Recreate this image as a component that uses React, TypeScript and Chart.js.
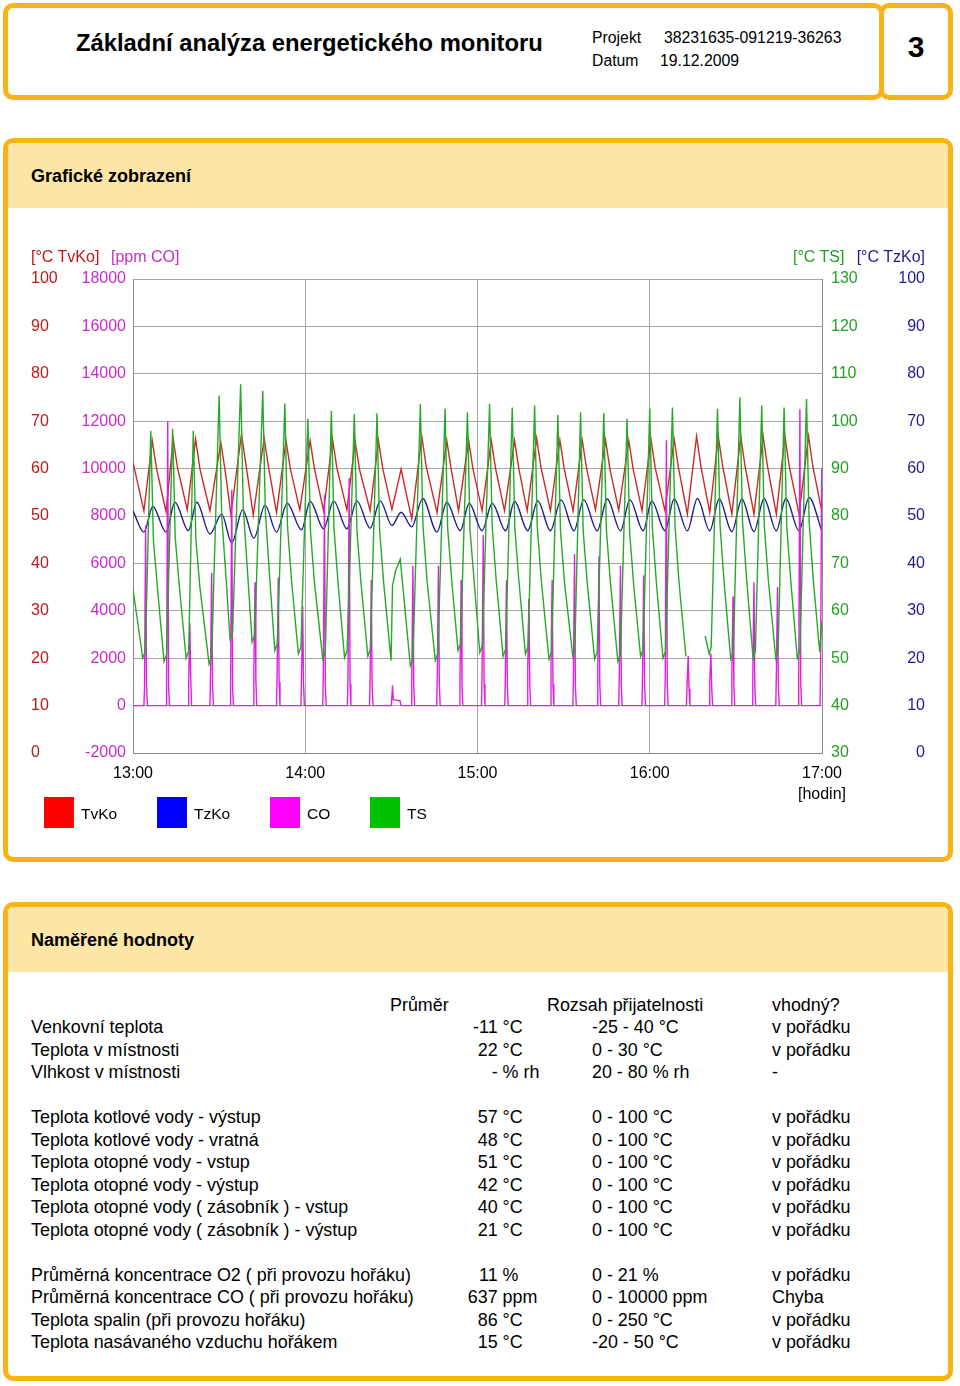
import React, { useEffect, useRef } from 'react';
import { Chart, registerables } from 'chart.js';

Chart.register(...registerables);

const FONT = "'Liberation Sans', Arial, Helvetica, sans-serif";

// ---------------- chart data (minutes after 13:00, value) ----------------
const timeTickLabels = ['13:00', '14:00', '15:00', '16:00', '17:00'];
const tvkoTickLabels = ['0', '10', '20', '30', '40', '50', '60', '70', '80', '90', '100'];
const coTickLabels = ['-2000', '0', '2000', '4000', '6000', '8000', '10000', '12000', '14000', '16000', '18000'];
const tsTickLabels = ['30', '40', '50', '60', '70', '80', '90', '100', '110', '120', '130'];
const tzkoTickLabels = ['0', '10', '20', '30', '40', '50', '60', '70', '80', '90', '100'];

const seriesNames = ['TvKo', 'TzKo', 'CO', 'TS'];

const tvkoData: [number, number][] = [
  [0, 61.3],
  [3.8, 51.1], [6.7, 65.9], [8.2, 60.0],
  [11.5, 50.9], [14.0, 66.2], [15.5, 60.2],
  [18.9, 51.3], [21.8, 66.2], [23.3, 60.0],
  [26.8, 51.1], [30.6, 65.5], [32.1, 59.5],
  [34.1, 50.4], [37.8, 67.3], [39.3, 61.0],
  [41.9, 50.2], [45.7, 66.4], [47.2, 60.3],
  [50.0, 50.7], [53.3, 65.9], [54.8, 60.0],
  [58.1, 51.3], [61.7, 65.9], [63.2, 60.0],
  [66.4, 51.1], [69.5, 66.2], [71.0, 60.2],
  [74.5, 51.3], [77.4, 65.7], [78.9, 59.8],
  [82.6, 51.1], [85.5, 65.9], [87.0, 60.0],
  [90.2, 51.4], [93.4, 59.9], [94.9, 55.5],
  [97.1, 49.4], [100.6, 66.8], [102.1, 60.5],
  [105.9, 50.7], [109.3, 65.9], [110.8, 60.0],
  [113.4, 51.1], [116.9, 65.9], [118.4, 60.0],
  [121.6, 51.1], [124.8, 65.9], [126.3, 60.0],
  [129.4, 51.1], [132.9, 65.9], [134.4, 60.0],
  [137.3, 51.1], [140.6, 66.4], [142.1, 60.3],
  [145.4, 51.1], [148.7, 66.0], [150.2, 60.0],
  [153.3, 51.1], [156.5, 65.9], [158.0, 60.0],
  [161.1, 51.3], [164.6, 66.0], [166.1, 60.0],
  [169.2, 51.2], [172.7, 65.9], [174.2, 60.0],
  [177.3, 51.1], [180.4, 66.2], [181.9, 60.2],
  [185.3, 51.1], [188.5, 66.2], [190.0, 60.2],
  [193.1, 50.4], [196.3, 66.8], [197.8, 60.5],
  [200.9, 50.7], [203.9, 66.7], [205.4, 60.5],
  [208.6, 50.4], [211.7, 66.8], [213.2, 60.5],
  [216.3, 50.4], [219.5, 66.8], [221.0, 60.5],
  [224.1, 50.4], [227.1, 66.8], [228.6, 60.5],
  [232.0, 50.4], [235.3, 66.8], [236.8, 60.5],
  [240, 50.8],
];

const tzkoData: [number, number][] = [
  [0, 51.1],
  [3.8, 46.6], [6.9, 52.0],
  [11.5, 46.6], [14.6, 52.9],
  [19.3, 46.9], [22.2, 52.9],
  [26.8, 46.2], [30.9, 50.4],
  [34.4, 44.3], [38.2, 51.3],
  [42.1, 45.3], [46.0, 52.3],
  [50.0, 46.6], [53.7, 52.7],
  [58.7, 47.1], [61.7, 53.1],
  [66.4, 47.3], [69.9, 53.2],
  [74.5, 47.3], [78.0, 53.2],
  [82.6, 47.4], [86.1, 53.2],
  [90.2, 48.0], [93.4, 50.8],
  [97.1, 47.7], [100.9, 53.7],
  [105.9, 46.6], [109.3, 52.9],
  [114.0, 46.9], [117.1, 52.7],
  [121.6, 46.9], [125.1, 52.7],
  [129.8, 46.9], [132.9, 53.1],
  [137.5, 46.9], [141.0, 53.2],
  [145.4, 46.9], [149.1, 53.4],
  [153.6, 46.9], [157.0, 53.4],
  [161.7, 46.9], [165.2, 53.6],
  [169.8, 46.9], [173.1, 53.4],
  [177.7, 46.9], [180.7, 53.2],
  [185.3, 46.9], [188.5, 53.6],
  [193.1, 46.9], [196.6, 53.7],
  [200.9, 46.9], [204.2, 53.6],
  [208.6, 46.7], [212.1, 53.6],
  [216.3, 46.7], [219.8, 53.7],
  [224.1, 46.9], [227.4, 53.7],
  [232.0, 46.9], [235.5, 53.9],
  [239.9, 46.9],
];

const tsData: [number, number | null][] = [
  [0, 64.6],
  [3.4, 50.0], [4.3, 51.5], [6.2, 98.0], [7.1, 75.0], [8.5, 65.0],
  [10.8, 49.3], [11.7, 50.8], [13.8, 98.4], [14.7, 75.5], [16.1, 65.5],
  [18.5, 50.0], [19.4, 51.5], [21.0, 98.0], [21.9, 75.0], [23.3, 65.0],
  [26.5, 48.8], [27.4, 50.3], [30.0, 105.4], [30.9, 80.0], [32.3, 68.0],
  [33.8, 54.1], [34.7, 55.6], [37.5, 107.8], [38.4, 82.0], [39.8, 69.0],
  [41.5, 53.4], [42.4, 54.9], [45.2, 106.4], [46.1, 81.0], [47.5, 68.0],
  [49.4, 51.6], [50.3, 53.1], [52.9, 103.8], [53.8, 78.0], [55.2, 66.5],
  [57.6, 50.9], [58.5, 52.4], [60.9, 100.5], [61.8, 77.0], [63.2, 66.0],
  [66.1, 49.8], [67.0, 51.3], [69.1, 102.2], [70.0, 77.5], [71.4, 66.0],
  [73.7, 50.1], [74.6, 51.6], [77.1, 101.5], [78.0, 77.0], [79.4, 66.0],
  [81.8, 50.4], [82.7, 51.9], [85.0, 101.7], [85.9, 77.0], [87.3, 66.0],
  [89.9, 49.5], [90.4, 65.3], [91.5, 68.5], [93.1, 70.9], [96.6, 48.4],
  [97.5, 49.9], [100.1, 103.6], [101.0, 78.0], [102.4, 66.5],
  [105.3, 49.5], [106.2, 51.0], [108.7, 102.7], [109.6, 77.5], [111.0, 66.5],
  [113.2, 51.6], [114.1, 53.1], [116.5, 101.9], [117.4, 77.0], [118.8, 66.5],
  [120.8, 51.2], [121.7, 52.7], [124.2, 103.6], [125.1, 78.0], [126.5, 66.5],
  [128.9, 50.4], [129.8, 51.9], [132.1, 102.9], [133.0, 77.5], [134.4, 66.5],
  [136.7, 50.9], [137.6, 52.4], [139.9, 103.3], [140.8, 78.0], [142.2, 66.5],
  [144.9, 49.8], [145.8, 51.3], [148.0, 101.3], [148.9, 77.0], [150.3, 66.0],
  [153.2, 50.4], [153.9, 51.9], [155.9, 101.9], [156.8, 77.0], [158.2, 66.0],
  [160.8, 49.8], [161.7, 51.3], [164.0, 101.7], [164.9, 77.0], [166.3, 66.0],
  [168.9, 49.3], [169.8, 50.8], [172.1, 100.5], [173.0, 76.5], [174.4, 65.5],
  [176.8, 50.4], [177.7, 51.9], [180.0, 102.7], [180.9, 77.5], [182.3, 66.0],
  [184.6, 50.0], [185.5, 51.5], [187.9, 102.9], [188.8, 78.0], [190.2, 66.0],
  [192.6, 50.4], [193.0, null],
  [199.3, 54.7], [200.7, 50.9], [201.4, 52.4], [203.6, 102.6], [204.5, 78.0], [205.9, 66.0],
  [208.2, 49.8], [209.1, 51.3], [211.4, 105.0], [212.3, 79.0], [213.7, 67.0],
  [216.0, 50.0], [216.8, 51.5], [219.0, 103.3], [219.9, 78.0], [221.3, 66.5],
  [223.9, 50.0], [224.7, 51.5], [226.8, 102.9], [227.7, 78.0], [229.1, 66.5],
  [231.4, 50.0], [232.3, 51.5], [234.6, 104.7], [235.5, 79.0], [236.9, 67.0],
  [239.2, 51.3], [240, 58.0],
];

const coData: [number, number][] = [
  [0, 0],
  [3.8, 0], [4.0, 700], [4.4, 7600], [4.7, 900], [5.0, 0],
  [11.5, 0], [11.7, 1000], [12.1, 12000], [12.4, 800], [12.7, 0],
  [19.2, 0], [19.4, 900], [19.8, 3500], [20.1, 1200], [20.4, 0],
  [26.8, 0], [27.0, 1300], [27.4, 5600], [27.7, 900], [28.0, 0],
  [33.8, 0], [34.0, 800], [34.4, 9100], [34.7, 700], [35.0, 0],
  [41.9, 0], [42.1, 1500], [42.5, 5200], [42.8, 1100], [43.1, 0],
  [50.0, 0], [50.2, 1400], [50.6, 5400], [50.9, 1000], [51.2, 0],
  [58.5, 0], [58.7, 1200], [59.1, 4200], [59.4, 900], [59.7, 0],
  [66.1, 0], [66.3, 1400], [66.7, 8900], [67.0, 800], [67.3, 0],
  [74.7, 0], [74.9, 1300], [75.3, 9600], [75.6, 900], [75.9, 0],
  [82.4, 0], [82.6, 1200], [83.0, 5300], [83.3, 800], [83.6, 0],
  [90.0, 0], [90.4, 850], [90.7, 250], [93.0, 200], [93.4, 0],
  [96.9, 0], [97.1, 1000], [97.5, 5900], [97.8, 800], [98.1, 0],
  [105.8, 0], [106.0, 1300], [106.4, 5900], [106.7, 900], [107.0, 0],
  [113.7, 0], [113.9, 1200], [114.3, 5300], [114.6, 800], [114.9, 0],
  [121.4, 0], [121.6, 1500], [122.0, 7200], [122.3, 900], [122.6, 0],
  [129.5, 0], [129.7, 1200], [130.1, 5300], [130.4, 800], [130.7, 0],
  [137.3, 0], [137.5, 1500], [137.9, 4500], [138.2, 900], [138.5, 0],
  [145.4, 0], [145.6, 1600], [146.0, 5300], [146.3, 900], [146.6, 0],
  [153.2, 0], [153.4, 1000], [153.8, 6400], [154.1, 800], [154.4, 0],
  [161.7, 0], [161.9, 1500], [162.3, 6300], [162.6, 900], [162.9, 0],
  [169.2, 0], [169.4, 1300], [169.8, 5900], [170.1, 800], [170.4, 0],
  [177.3, 0], [177.5, 1400], [177.9, 5500], [178.2, 900], [178.5, 0],
  [185.2, 0], [185.4, 1200], [185.8, 11200], [186.1, 900], [186.4, 0],
  [192.8, 0], [193.0, 900], [193.4, 2100], [193.7, 700], [194.0, 0],
  [200.7, 0], [200.9, 1000], [201.3, 2200], [201.6, 700], [201.9, 0],
  [208.4, 0], [208.6, 1300], [209.0, 4600], [209.3, 800], [209.6, 0],
  [215.7, 0], [215.9, 1200], [216.3, 5200], [216.6, 800], [216.9, 0],
  [223.9, 0], [224.1, 1300], [224.5, 5000], [224.8, 800], [225.1, 0],
  [231.7, 0], [231.9, 1200], [232.3, 12500], [232.6, 900], [232.9, 0],
  [239.3, 0], [239.5, 1500], [239.9, 10000], [240, 9000],
];

// ---------------- table data ----------------
const tableHeaders = ['Průměr', 'Rozsah přijatelnosti', 'vhodný?'];
const rowLabels = [
  'Venkovní teplota',
  'Teplota v místnosti',
  'Vlhkost v místnosti',
  'Teplota kotlové vody - výstup',
  'Teplota kotlové vody - vratná',
  'Teplota otopné vody - vstup',
  'Teplota otopné vody - výstup',
  'Teplota otopné vody ( zásobník ) - vstup',
  'Teplota otopné vody ( zásobník ) - výstup',
  'Průměrná koncentrace O2 ( při provozu hořáku)',
  'Průměrná koncentrace CO ( při provozu hořáku)',
  'Teplota spalin (při provozu hořáku)',
  'Teplota nasávaného vzduchu hořákem',
];
const rowAverages = ['-11', '22', '-', '57', '48', '51', '42', '40', '21', '11', '637', '86', '15'];
const rowUnits = ['°C', '°C', '% rh', '°C', '°C', '°C', '°C', '°C', '°C', '%', 'ppm', '°C', '°C'];
const rowRanges = [
  '-25 - 40 °C', '0 - 30 °C', '20 - 80 % rh',
  '0 - 100 °C', '0 - 100 °C', '0 - 100 °C', '0 - 100 °C', '0 - 100 °C', '0 - 100 °C',
  '0 - 21 %', '0 - 10000 ppm', '0 - 250 °C', '-20 - 50 °C',
];
const rowStatus = [
  'v pořádku', 'v pořádku', '-',
  'v pořádku', 'v pořádku', 'v pořádku', 'v pořádku', 'v pořádku', 'v pořádku',
  'v pořádku', 'Chyba', 'v pořádku', 'v pořádku',
];

// ---------------- styling ----------------
const ORANGE = '#F8B416';
const BAND = '#FDE6A6';
const C_TV = '#C01818';
const C_CO = '#CC2ACC';
const C_TS = '#23A023';
const C_TZ = '#1C1C9A';
const LINE_TV = '#CC2A2A';
const LINE_TZ = '#1E1E8C';
const LINE_CO = '#E020E0';
const LINE_TS = '#28A828';
const LEGEND_COLORS = ['#FF0000', '#0000FF', '#FF00FF', '#00C000'];
const GRID = '#A6A6A6';
const FRAME = '#8C8C8C';

Chart.defaults.font.family = FONT;
Chart.defaults.font.size = 16;
Chart.defaults.color = '#000';

type TxtProps = {
  x: number; y: number; size: number; bold?: boolean; color?: string;
  align?: 'left' | 'right' | 'center'; children: React.ReactNode;
};
function Txt({ x, y, size, bold, color, align = 'left', children }: TxtProps) {
  const style: React.CSSProperties = {
    position: 'absolute', top: y - size / 2 + 1, lineHeight: size + 'px', fontSize: size,
    fontWeight: bold ? 700 : 400, color: color || '#000', whiteSpace: 'nowrap', fontFamily: FONT,
  };
  if (align === 'left') style.left = x;
  else if (align === 'right') style.right = 960 - x;
  else { style.left = x; style.transform = 'translateX(-50%)'; }
  return <div style={style}>{children}</div>;
}

function Box({ left, top, width, height, band }: { left: number; top: number; width: number; height: number; band?: number }) {
  return (
    <div style={{
      position: 'absolute', left, top, width, height, boxSizing: 'border-box',
      border: `5px solid ${ORANGE}`, borderRadius: 10, overflow: 'hidden', background: '#fff',
    }}>
      {band ? <div style={{ position: 'absolute', left: 0, top: 0, right: 0, height: band, background: BAND }} /> : null}
    </div>
  );
}

function EnergyChart() {
  const ref = useRef<HTMLCanvasElement>(null);
  useEffect(() => {
    const toXY = (arr: [number, number | null][]) => arr.map(([x, y]) => ({ x, y }));
    const base = { pointRadius: 0, borderWidth: 1.4, tension: 0, spanGaps: false, fill: false };
    const chart = new Chart(ref.current as HTMLCanvasElement, {
      type: 'line',
      data: {
        datasets: [
          { ...base, label: seriesNames[3], data: toXY(tsData), yAxisID: 'yTS', borderColor: LINE_TS, order: 0 },
          { ...base, label: seriesNames[2], data: toXY(coData), yAxisID: 'yCO', borderColor: LINE_CO, order: 1 },
          { ...base, label: seriesNames[1], data: toXY(tzkoData), yAxisID: 'yTz', borderColor: LINE_TZ, order: 2, cubicInterpolationMode: 'monotone' },
          { ...base, label: seriesNames[0], data: toXY(tvkoData), yAxisID: 'yTv', borderColor: LINE_TV, order: 3 },
        ] as any,
      },
      options: {
        responsive: false,
        animation: false,
        events: [],
        layout: { padding: { left: 31, right: 35, top: 48, bottom: 8 } },
        plugins: { legend: { display: false }, tooltip: { enabled: false } },
        scales: {
          x: {
            type: 'linear', min: 0, max: 240,
            ticks: { stepSize: 60, padding: 11, color: '#000', maxRotation: 0, autoSkip: false, callback: (_v: any, i: number) => timeTickLabels[i] },
            grid: { color: GRID, drawTicks: false, lineWidth: 1 },
            border: { color: FRAME, width: 1 },
            afterFit: (s: any) => { s.height = 40; },
          },
          yTv: {
            type: 'linear', position: 'left', weight: 2, min: 0, max: 100,
            ticks: { stepSize: 10, crossAlign: 'far', padding: 0, color: C_TV, callback: (_v: any, i: number) => tvkoTickLabels[i] },
            grid: { color: GRID, drawTicks: false, lineWidth: 1 },
            border: { display: false },
            afterFit: (s: any) => { s.width = 50; },
          },
          yCO: {
            type: 'linear', position: 'left', weight: 1, min: -2000, max: 18000,
            ticks: { stepSize: 2000, padding: 7, color: C_CO, callback: (_v: any, i: number) => coTickLabels[i] },
            grid: { display: false, drawTicks: false },
            border: { display: true, color: FRAME, width: 1 },
            afterFit: (s: any) => { s.width = 52; },
          },
          yTS: {
            type: 'linear', position: 'right', weight: 1, min: 30, max: 130,
            ticks: { stepSize: 10, padding: 9, color: C_TS, callback: (_v: any, i: number) => tsTickLabels[i] },
            grid: { display: false, drawTicks: false },
            border: { display: true, color: FRAME, width: 1 },
            afterFit: (s: any) => { s.width = 48; },
          },
          yTz: {
            type: 'linear', position: 'right', weight: 2, min: 0, max: 100,
            ticks: { stepSize: 10, crossAlign: 'far', padding: 0, color: C_TZ, callback: (_v: any, i: number) => tzkoTickLabels[i] },
            grid: { display: false, drawTicks: false },
            border: { display: false },
            afterFit: (s: any) => { s.width = 55; },
          },
        } as any,
      },
    });
    return () => chart.destroy();
  }, []);
  return <canvas ref={ref} width={960} height={570} style={{ position: 'absolute', left: 0, top: 231, width: 960, height: 570 }} />;
}

const legendX = [44, 157, 270, 370];
const rowSlots = [0, 1, 2, 4, 5, 6, 7, 8, 9, 11, 12, 13, 14];

export default function App() {
  const tSize = 17.9;
  return (
    <div style={{ position: 'relative', width: 960, height: 1386, background: '#fff', overflow: 'hidden', fontFamily: FONT }}>
      <style>{'html,body{margin:0;padding:0;background:#fff;}'}</style>

      {/* header */}
      <Box left={3} top={3} width={881} height={97} />
      <Box left={879} top={3} width={74} height={97} />
      <Txt x={76} y={42} size={23.8} bold>Základní analýza energetického monitoru</Txt>
      <Txt x={592} y={37} size={15.8}>Projekt</Txt>
      <Txt x={664} y={37} size={15.8}>38231635-091219-36263</Txt>
      <Txt x={592} y={60} size={15.8}>Datum</Txt>
      <Txt x={660} y={60} size={15.8}>19.12.2009</Txt>
      <Txt x={916} y={46} size={30} bold align="center">3</Txt>

      {/* chart section */}
      <Box left={3} top={138} width={950} height={724} band={65} />
      <Txt x={31} y={175} size={18} bold>Grafické zobrazení</Txt>
      <EnergyChart />
      <Txt x={31} y={256} size={16} color={C_TV}>[°C TvKo]</Txt>
      <Txt x={111} y={256} size={16} color={C_CO}>[ppm CO]</Txt>
      <Txt x={793} y={256} size={16} color={C_TS}>[°C TS]</Txt>
      <Txt x={925} y={256} size={16} color={C_TZ} align="right">[°C TzKo]</Txt>
      <Txt x={822} y={793} size={16} align="center">[hodin]</Txt>
      {seriesNames.map((n, i) => (
        <React.Fragment key={n}>
          <div style={{ position: 'absolute', left: legendX[i], top: 797, width: 30, height: 31, background: LEGEND_COLORS[i] }} />
          <Txt x={legendX[i] + 37} y={813} size={15.5}>{n}</Txt>
        </React.Fragment>
      ))}

      {/* measured values section */}
      <Box left={3} top={902} width={950} height={479} band={65} />
      <Txt x={31} y={939} size={18} bold>Naměřené hodnoty</Txt>
      <Txt x={390} y={1005} size={tSize}>{tableHeaders[0]}</Txt>
      <Txt x={547} y={1005} size={tSize}>{tableHeaders[1]}</Txt>
      <Txt x={772} y={1005} size={tSize}>{tableHeaders[2]}</Txt>
      {rowLabels.map((lab, i) => {
        const y = 1027 + rowSlots[i] * 22.5;
        return (
          <React.Fragment key={i}>
            <Txt x={31} y={y} size={tSize}>{lab}</Txt>
            <Txt x={497.6} y={y} size={tSize} align="right">{rowAverages[i]}</Txt>
            <Txt x={497.6} y={y} size={tSize}>{'\u00a0' + rowUnits[i]}</Txt>
            <Txt x={592} y={y} size={tSize}>{rowRanges[i]}</Txt>
            <Txt x={772} y={y} size={tSize}>{rowStatus[i]}</Txt>
          </React.Fragment>
        );
      })}
    </div>
  );
}
